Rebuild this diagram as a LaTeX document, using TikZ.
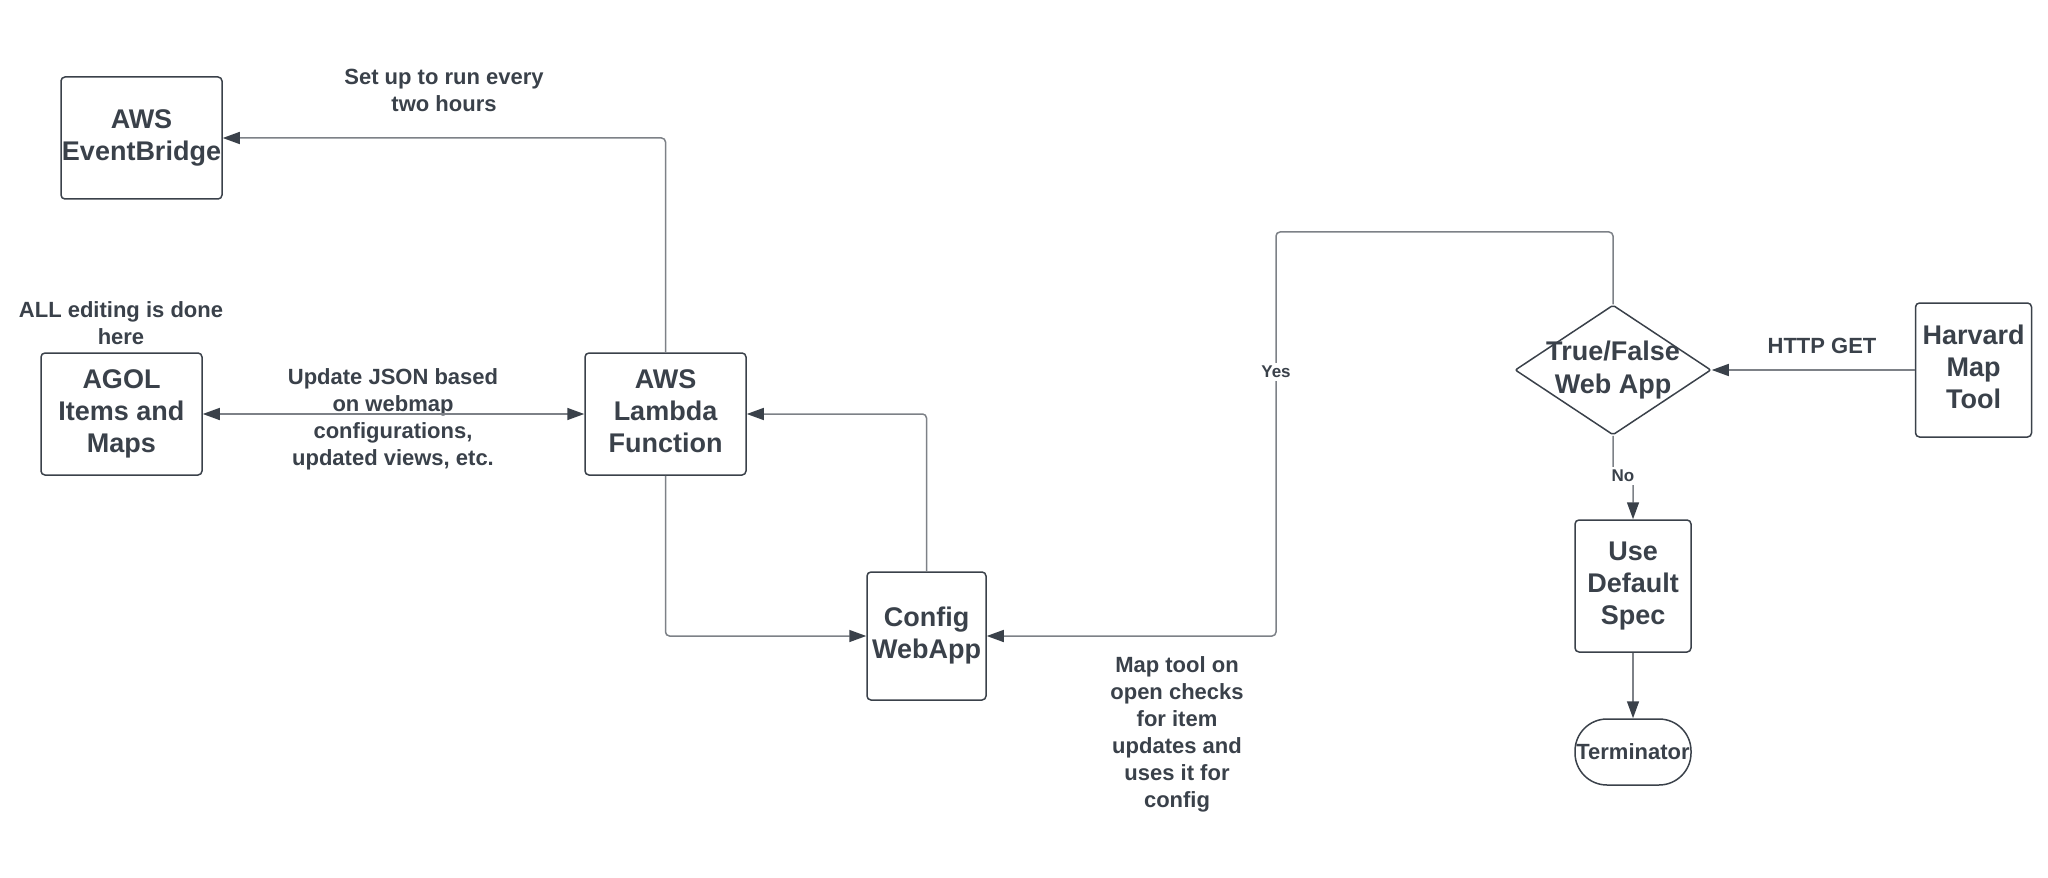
\documentclass[tikz,border=0pt]{standalone}
\usepackage{fontspec}
\setmainfont{Liberation Sans}
\usetikzlibrary{arrows.meta,shapes.geometric}
\definecolor{ink}{RGB}{58,65,74}
\definecolor{wire}{RGB}{125,129,135}
\tikzset{
  block/.style={draw=ink, line width=0.75pt, rounded corners=2pt, inner sep=0pt, text depth=3pt,
    align=center, text=ink, font=\bfseries\fontsize{13.5}{16}\selectfont},
  note/.style={align=center, text=ink, font=\bfseries\fontsize{11}{13.5}\selectfont},
  tag/.style={fill=white, inner sep=1.5pt, text=ink, font=\bfseries\fontsize{8.5}{10}\selectfont},
  flow/.style={draw=wire, line width=0.75pt, rounded corners=2pt,
    -{Triangle[length=8.5pt,width=6pt,color=ink]}},
  flowboth/.style={draw=wire, line width=0.75pt,
    {Triangle[length=8.5pt,width=6pt,color=ink]}-{Triangle[length=8.5pt,width=6pt,color=ink]}},
}
\begin{document}
\begin{tikzpicture}[x=0.5pt,y=-0.5pt]
\useasboundingbox (0,0) rectangle (2048,877);
% boxes
\node[block, minimum width=80.5pt, minimum height=61pt] (eb) at (141.5,138) {AWS\\EventBridge};
\node[block, minimum width=80.5pt, minimum height=61pt] (agol) at (121.5,414) {AGOL\\Items and\\Maps};
\node[block, minimum width=80.5pt, minimum height=61pt] (lam) at (665.5,414) {AWS\\Lambda\\Function};
\node[block, minimum width=59.5pt, minimum height=64pt] (cfg) at (926.5,636) {Config\\WebApp};
\node[block, shape=diamond, rounded corners=1pt, minimum width=98pt, minimum height=65pt] (dec) at (1613,370) {};
\node[align=center, text=ink, font=\bfseries\fontsize{13.5}{16.5}\selectfont] (dectext) at (dec) {True/False\\Web App};
\node[block, minimum width=58pt, minimum height=67pt] (harv) at (1973.5,370) {Harvard\\Map\\Tool};
\node[block, minimum width=58pt, minimum height=66pt] (spec) at (1633,586) {Use\\Default\\Spec};
\node[block, rounded corners=16pt, minimum width=58pt, minimum height=33pt, text depth=0pt,
  font=\bfseries\fontsize{11}{13}\selectfont] (term) at (1633,752) {Terminator};
% notes
\node[note] (sched) at (444,90) {Set up to run every\\two hours};
\node[note] (edit) at (121,323.5) {ALL editing is done\\here};
\node[note] (upd) at (393,419) {Update JSON based\\on webmap\\configurations,\\updated views, etc.};
\node[note] (maptool) at (1177,734.5) {Map tool on\\open checks\\for item\\updates and\\uses it for\\config};
\node[note] (get) at (1822,346) {HTTP GET};
% connectors
\draw[flow] (lam.north) |- (eb.east);
\draw[flowboth] (agol.east) -- (lam.west);
\draw[flow] (lam.south) |- (cfg.west);
\draw[flow] (cfg.north) |- (lam.east);
\coordinate (bend) at (1276,232);
\draw[flow] (dec.north) |- (bend) |- (cfg.east);
\node[tag] (yes) at (1276,372) {Yes};
\draw[flow] (harv.west) -- (dec.east);
\coordinate (nopt) at (1623,476);
\draw[flow] (dec.south) |- (nopt) -| (spec.north);
\node[tag] (no) at (nopt) {No};
\draw[flow] (spec.south) -- (term.north);
\end{tikzpicture}
\end{document}
